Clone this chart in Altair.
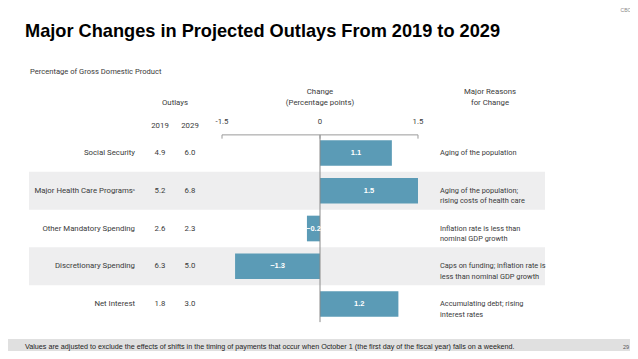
import altair as alt
import pandas as pd

# ---- data ----
categories = ["Social Security", "Major Health Care Programs\u1d43", "Other Mandatory Spending",
              "Discretionary Spending", "Net Interest"]
outlays_2019 = [4.9, 5.2, 2.6, 6.3, 1.8]
outlays_2029 = [6.0, 6.8, 2.3, 5.0, 3.0]
change = [1.1, 1.5, -0.2, -1.3, 1.2]
reasons = [
    ["Aging of the population"],
    ["Aging of the population;", "rising costs of health care"],
    ["Inflation rate is less than", "nominal GDP growth"],
    ["Caps on funding; inflation rate is", "less than nominal GDP growth"],
    ["Accumulating debt; rising", "interest rates"],
]
shaded_rows = [1, 3]
axis_ticks = [-1.5, 0, 1.5]
axis_tick_labels = ["-1.5", "0", "1.5"]

title = "Major Changes in Projected Outlays From 2019 to 2029"
subtitle = "Percentage of Gross Domestic Product"
footnote = ("Values are adjusted to exclude the effects of shifts in the timing of payments "
            "that occur when October 1 (the first day of the fiscal year) falls on a weekend.")

W, H = 622, 343
FONT = "Roboto"
FS = 7.8
TXT = "#3a3a3a"
BAR = "#5b9bb6"

df = pd.DataFrame({
    "row": list(range(len(categories))),
    "category": categories,
    "y2019": [f"{v:.1f}" for v in outlays_2019],
    "y2029": [f"{v:.1f}" for v in outlays_2029],
    "change": change,
    "label": [(f"{v:.1f}" if v >= 0 else "\u2212" + f"{abs(v):.1f}") for v in change],
    "reason": reasons,
})

x_scale = alt.Scale(domain=[-312 / 65.33, (W - 312) / 65.33], nice=False, zero=False)
y0 = -145 / 37.75
y_scale = alt.Scale(domain=[y0, y0 + H / 37.75], nice=False, zero=False, reverse=True)
X = lambda f: alt.X(f, type="quantitative", scale=x_scale, axis=None)
Y = lambda f: alt.Y(f, type="quantitative", scale=y_scale, axis=None)

base = alt.Chart(df)

bands = alt.Chart(pd.DataFrame({"row": shaded_rows})).transform_calculate(
    ya="datum.row - 0.503", yb="datum.row + 0.503"
).mark_rect(color="#eeeeef").encode(
    x=alt.value(21), x2=alt.value(537), y=Y("ya"), y2=alt.Y2("yb"))

bars = base.transform_calculate(
    ya="datum.row - 0.34", yb="datum.row + 0.34", zero="0"
).mark_rect(color=BAR).encode(x=X("zero"), x2=alt.X2("change"), y=Y("ya"), y2=alt.Y2("yb"))

bar_labels = base.transform_calculate(mid="datum.change / 2").mark_text(
    color="white", fontWeight="bold", fontSize=7.5, font="Liberation Sans", baseline="middle"
).encode(x=X("mid"), y=Y("row"), text="label:N")

cat_labels = base.mark_text(align="right", baseline="middle", fontSize=FS, font=FONT, color=TXT).encode(
    x=alt.value(127), y=Y("row"), text="category:N")
v19 = base.mark_text(baseline="middle", fontSize=FS, font=FONT, color=TXT).encode(
    x=alt.value(152), y=Y("row"), text="y2019:N")
v29 = base.mark_text(baseline="middle", fontSize=FS, font=FONT, color=TXT).encode(
    x=alt.value(182), y=Y("row"), text="y2029:N")
reason_txt = base.mark_text(align="left", baseline="middle", fontSize=7.4, font=FONT, color=TXT,
                            lineHeight=10.5).encode(x=alt.value(432), y=Y("row"), text="reason:N")

# axis
axis_df = pd.DataFrame({"t": axis_ticks, "lab": axis_tick_labels})
axis_line = alt.Chart(pd.DataFrame({"a": [-1.5], "b": [1.5], "yy": [-0.48]})).mark_rule(
    color="#9a9a9a", strokeWidth=1).encode(x=X("a"), x2=alt.X2("b"), y=Y("yy"))
axis_ticks_m = alt.Chart(axis_df).transform_calculate(ya="-0.48", yb="-0.38").mark_rule(
    color="#9a9a9a").encode(x=X("t"), y=Y("ya"), y2=alt.Y2("yb"))
zero_line = alt.Chart(pd.DataFrame({"z": [0], "ya": [-0.48], "yb": [4.48]})).mark_rule(
    color="#8a8a8a", strokeWidth=1).encode(x=X("z"), y=Y("ya"), y2=alt.Y2("yb"))
axis_labels = alt.Chart(axis_df).mark_text(fontSize=FS, font=FONT, color=TXT, baseline="middle").encode(
    x=X("t"), y=alt.value(114), text="lab:N")

def txt(s, x, y, size=FS, align="center", color=TXT, weight="normal", font=FONT):
    return alt.Chart(pd.DataFrame({"s": [s]})).mark_text(
        align=align, baseline="middle", fontSize=size, font=font, color=color, fontWeight=weight
    ).encode(x=alt.value(x), y=alt.value(y), text="s:N")

headers = [
    txt(title, 17, 24, size=18.2, align="left", color="#000000", weight="bold",
        font="Liberation Sans, Arial"),
    txt("CBO", 618, 2, size=5, color="#888888", font="Liberation Sans"),
    txt(subtitle, 22, 64, align="left", size=7.6),
    txt("Outlays", 167, 95),
    txt("2019", 152, 118),
    txt("2029", 182, 118),
    txt("Change", 312, 84),
    txt("(Percentage points)", 312, 95),
    txt("Major Reasons", 482, 84),
    txt("for Change", 482, 95),
]

footer_band = alt.Chart(pd.DataFrame({"a": [0]})).mark_rect(color="#e0e0e0").encode(
    x=alt.value(0), x2=alt.value(W), y=alt.value(331), y2=alt.value(H))
footer = [
    txt(footnote, 17, 338.5, size=7.2, align="left", color="#222222", font="Liberation Sans"),
    txt("29", 621, 338.5, size=5.5, align="right", color="#555555", font="Liberation Sans"),
]

chart = alt.layer(
    bands, footer_band, bars, zero_line, axis_line, axis_ticks_m, axis_labels,
    bar_labels, cat_labels, v19, v29, reason_txt, *headers, *footer
).properties(
    width=W, height=H, padding=0, autosize=alt.AutoSizeParams(type="none")
).configure_view(stroke=None)

chart.save("out.html", embed_options={"renderer": "svg", "actions": False})
